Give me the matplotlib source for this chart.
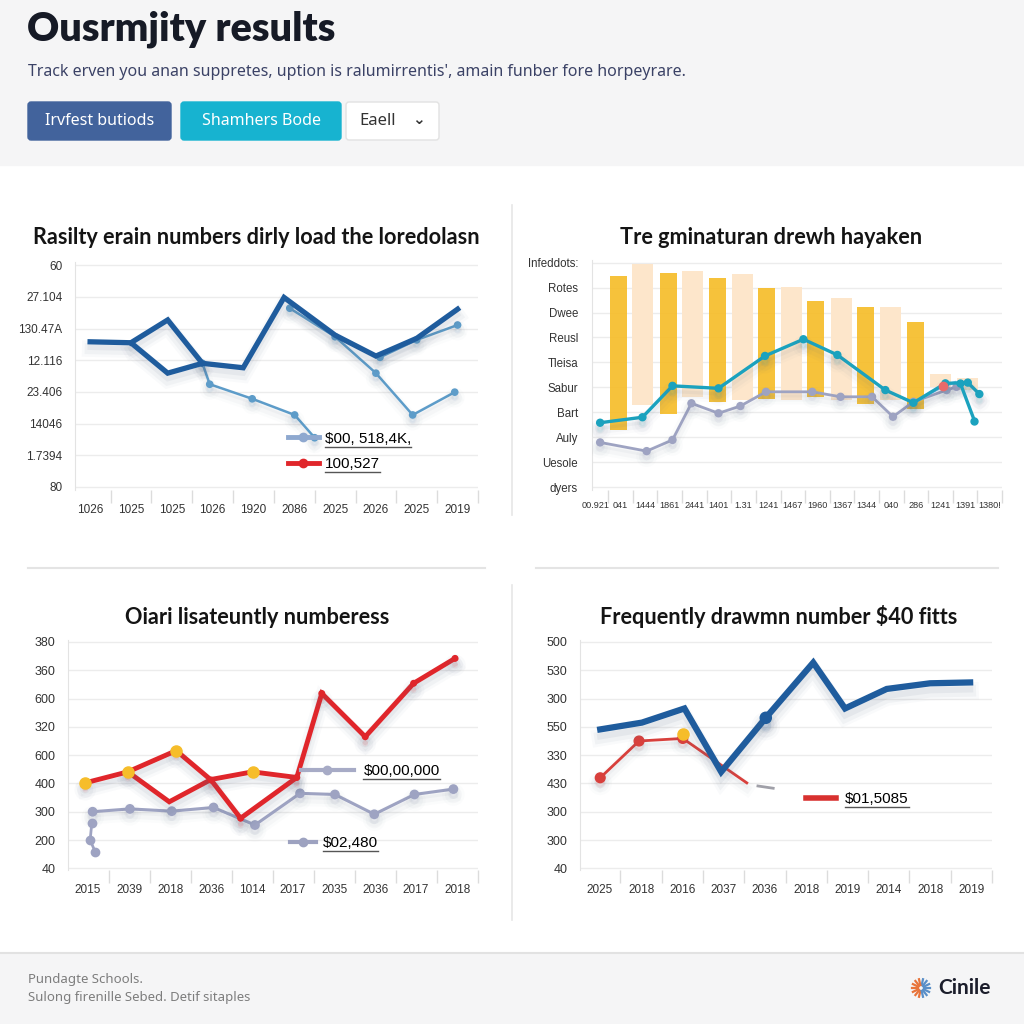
import matplotlib
matplotlib.use("Agg")
import matplotlib.pyplot as plt
import matplotlib.patheffects as pe
from matplotlib.lines import Line2D
from matplotlib.patches import FancyBboxPatch, Rectangle
import numpy as np

W = H = 1024

# ---- header / footer text
title = "Ousrmjity results"
subtitle = "Track erven you anan suppretes, uption is ralumirrentis', amain funber fore horpeyrare."
buttons = ["Irvfest butiods", "Shamhers Bode", "Eaell"]
footer_lines = ["Pundagte Schools.", "Sulong firenille Sebed. Detif sitaples"]
brand = "Cinile"

# ---- panel 1 (top left)
p1_title = "Rasilty erain numbers dirly load the loredolasn"
p1_xlabels = ["1026", "1025", "1025", "1026", "1920", "2086", "2025", "2026", "2025", "2019"]
p1_ylabels = ["80", "1.7394", "14046", "23.406", "12.116", "130.47A", "27.104", "60"]
p1_dark_x = [0, 1, 1.9, 2.75, 3.75, 4.75, 6, 7, 8, 9]
p1_dark_y = [4.58, 4.55, 3.59, 3.90, 3.76, 5.98, 4.79, 4.13, 4.69, 5.61]
p1_dark2_x = [1, 1.9, 2.75]
p1_dark2_y = [4.55, 5.27, 3.90]
p1_light_x = [2.75, 2.93, 3.97, 5.01, 5.5]
p1_light_y = [3.90, 3.24, 2.78, 2.27, 1.55]
p1_light2_x = [4.89, 6, 7, 7.9, 8.93]
p1_light2_y = [5.64, 4.74, 3.59, 2.27, 2.99]
p1_light3_x = [7.1, 8, 9]
p1_light3_y = [4.09, 4.64, 5.11]
p1_legend = ["$00, 518,4K,", "100,527"]

# ---- panel 2 (top right)
p2_title = "Tre gminaturan drewh hayaken"
p2_xlabels = ["00.921", "041", "1444", "1861", "2441", "1401", "1.31", "1241", "1467",
              "1960", "1367", "1344", "040", "286", "1241", "1391", "1380!"]
p2_ylabels = ["dyers", "Uesole", "Auly", "Bart", "Sabur", "Tleisa", "Reusl", "Dwee", "Rotes", "Infeddots:"]
p2_gold_x = [0.93, 2.93, 4.95, 6.95, 8.93, 10.95, 12.97]
p2_gold_top = [8.48, 8.59, 8.40, 8.00, 7.46, 7.22, 6.62]
p2_gold_base = [2.29, 2.93, 3.41, 3.53, 3.61, 3.33, 3.13]
p2_cream_x = [1.9, 3.94, 5.94, 7.94, 9.96, 11.96, 14.0, 15.1]
p2_cream_top = [8.95, 8.68, 8.55, 8.04, 7.58, 7.22, 4.53, 4.37]
p2_cream_base = [3.3, 3.6, 3.5, 3.5, 3.5, 3.5, 4.0, 3.9]
p2_teal_x = [0.17, 1.89, 3.11, 4.98, 6.87, 8.43, 9.81, 11.76, 12.9, 14.2, 15.11, 15.58]
p2_teal_y = [2.58, 2.80, 4.06, 3.96, 5.26, 5.93, 5.30, 3.89, 3.38, 4.16, 4.19, 3.73]
p2_teal2_x = [14.8, 15.38]
p2_teal2_y = [4.18, 2.66]
p2_gray_x = [0.17, 2.06, 3.11, 3.88, 4.98, 5.87, 6.91, 8.79, 9.94, 11.22, 12.07, 12.9, 14.25, 14.65]
p2_gray_y = [1.79, 1.44, 1.89, 3.36, 2.96, 3.25, 3.82, 3.82, 3.62, 3.62, 2.82, 3.42, 3.89, 4.02]
p2_sky_x = [12.9, 14.1, 14.6]
p2_sky_y = [3.38, 4.05, 4.2]
p2_red_x = [14.1]
p2_red_y = [4.05]

# ---- panel 3 (bottom left)
p3_title = "Oiari lisateuntly numberess"
p3_xlabels = ["2015", "2039", "2018", "2036", "1014", "2017", "2035", "2036", "2017", "2018"]
p3_ylabels = ["40", "200", "300", "400", "600", "320", "600", "360", "380"]
p3_red_x = [-0.07, 0.97, 2.15, 3.0, 3.72, 5.09, 5.70, 6.76, 7.94, 8.95]
p3_red_y = [3.02, 3.41, 4.16, 3.12, 1.77, 3.21, 6.18, 4.65, 6.54, 7.42]
p3_red2_x = [0.97, 1.98, 3.0, 4.01, 5.09]
p3_red2_y = [3.41, 2.35, 3.14, 3.41, 3.21]
p3_gold_x = [-0.07, 0.97, 2.15, 4.01]
p3_gold_y = [3.02, 3.41, 4.16, 3.41]
p3_gray_x = [0.11, 1.02, 2.04, 3.06, 4.07, 5.17, 6.02, 6.98, 7.96, 8.91]
p3_gray_y = [2.0, 2.10, 2.02, 2.15, 1.53, 2.65, 2.61, 1.91, 2.61, 2.80]
p3_stub_x = [0.09, 0.05, 0.17]
p3_stub_y = [1.59, 1.0, 0.59]
p3_legend = ["$00,00,000", "$02,480"]

# ---- panel 4 (bottom right)
p4_title = "Frequently drawmn number $40 fitts"
p4_xlabels = ["2025", "2018", "2016", "2037", "2036", "2018", "2019", "2014", "2018", "2019"]
p4_ylabels = ["40", "300", "300", "430", "330", "550", "300", "530", "500"]
p4_blue_x = [0.01, 1.02, 2.05, 2.94, 4.02, 5.17, 5.94, 6.95, 8.0, 8.97]
p4_blue_y = [4.91, 5.15, 5.65, 3.41, 5.32, 7.27, 5.65, 6.34, 6.54, 6.57]
p4_red_x = [0.01, 0.95, 2.01, 3.56]
p4_red_y = [3.20, 4.50, 4.59, 3.02]
p4_dash_x = [3.83, 4.2]
p4_dash_y = [2.91, 2.83]
p4_gold_x = [2.01]
p4_gold_y = [4.75]
p4_legend = ["$01,5085"]

TITLE_FONT = ["Lato", "DejaVu Sans"]
TICK_FONT = ["Liberation Sans", "DejaVu Sans"]
BODY_FONT = ["Noto Sans", "DejaVu Sans"]
DARK_BLUE = "#1f5c9d"
LIGHT_BLUE = "#5d9cc9"
RED = "#e0262b"
GOLD = "#f6bd2a"
GRAY = "#9ea3c2"
TEAL = "#1ba2be"


def esc(s):
    return s.replace("$", r"\$")


def fx(x):
    return x / W


def fy(y):
    return 1 - y / H


def shadow(lw, off=5, alpha=0.05):
    # soft blurred-looking drop shadow built from a few wide translucent strokes
    return [pe.Stroke(offset=(0, -off), linewidth=lw + 8, foreground="#5a6a85", alpha=alpha * 0.6),
            pe.Stroke(offset=(0, -off), linewidth=lw + 4, foreground="#5a6a85", alpha=alpha),
            pe.Stroke(offset=(0, -off + 1), linewidth=lw, foreground="#5a6a85", alpha=alpha * 1.4),
            pe.Normal()]


def make_axes(fig, left, top, right, bottom):
    ax = fig.add_axes([fx(left), fy(bottom), (right - left) / W, (bottom - top) / H])
    ax.set_facecolor("none")
    for s in ["top", "right", "bottom"]:
        ax.spines[s].set_visible(False)
    ax.spines["left"].set_color("#e3e3e3")
    ax.grid(axis="y", color="#ececec", lw=1)
    ax.set_axisbelow(True)
    ax.tick_params(axis="both", which="major", length=0, colors="#333333")
    ax.tick_params(axis="x", which="minor", length=9, color="#dcdcdc", width=1)
    return ax


def set_ticks(ax, xlabels, ylabels, xsize=8.5, ysize=8.5, ypad=9):
    ax.set_xticks(range(len(xlabels)))
    ax.set_xticklabels(xlabels, fontsize=xsize, family=TICK_FONT)
    ax.set_xticks(np.arange(len(xlabels)) + 0.5, minor=True)
    ax.set_yticks(range(len(ylabels)))
    ax.set_yticklabels(ylabels, fontsize=ysize, family=TICK_FONT)
    ax.tick_params(axis="y", pad=ypad)
    ax.tick_params(axis="x", pad=10)


fig = plt.figure(figsize=(W / 100, H / 100), dpi=100)
fig.patch.set_facecolor("white")

# header and footer backgrounds
fig.add_artist(Rectangle((0, fy(165)), 1, 165 / H, transform=fig.transFigure, color="#f5f5f6", zorder=0))
fig.add_artist(Rectangle((0, 0), 1, fy(953), transform=fig.transFigure, color="#f5f5f6", zorder=0))
fig.add_artist(Line2D([0, 1], [fy(953), fy(953)], transform=fig.transFigure, color="#e2e2e2", lw=1.5))

fig.text(fx(27), fy(29), title, fontsize=28.5, weight="heavy", family=TITLE_FONT, color="#161a26", va="center")
fig.text(fx(28), fy(72), esc(subtitle), fontsize=11.5, family=BODY_FONT, color="#3b4266", va="center")

btn_boxes = [(28, 171, "#42639c", "white"), (181, 341, "#17b3d0", "white"), (346, 439, "white", "#333333")]
for (x0, x1, fc, tc), label in zip(btn_boxes, buttons):
    box = FancyBboxPatch((fx(x0), fy(140)), (x1 - x0) / W, 38 / H, transform=fig.transFigure,
                         boxstyle="round,pad=0,rounding_size=0.003", fc=fc,
                         ec="#e2e2e2" if fc == "white" else fc, lw=1)
    fig.add_artist(box)
    if fc == "white":
        fig.text(fx(359), fy(121), label, fontsize=12, family=BODY_FONT, color=tc, va="center")
        fig.text(fx(418), fy(120), "\u2304", fontsize=11, color=tc, va="center", ha="center", weight="bold")
    else:
        fig.text(fx((x0 + x1) / 2), fy(121), label, fontsize=11.5, family=BODY_FONT,
                 color=tc, va="center", ha="center")

# panel dividers
for (y0, y1) in [(205, 515), (585, 920)]:
    fig.add_artist(Line2D([fx(512), fx(512)], [fy(y0), fy(y1)], transform=fig.transFigure, color="#e6e6e6", lw=1.2))
for (x0, x1) in [(28, 485), (536, 998)]:
    fig.add_artist(Line2D([fx(x0), fx(x1)], [fy(568), fy(568)], transform=fig.transFigure, color="#e4e4e4", lw=1.5))

# panel titles
for text, cx, cy in [(p1_title, 256, 238), (p2_title, 771, 238), (p3_title, 257, 617), (p4_title, 779, 617)]:
    fig.text(fx(cx), fy(cy), esc(text), fontsize=15.6, weight="bold", family=TITLE_FONT,
             color="#141414", ha="center", va="center")

underline_texts = []

# ---- panel 1
ax1 = make_axes(fig, 75, 262, 478, 490)
ax1.set_xlim(-0.37, 9.49)
ax1.set_ylim(-0.1, 7.1)
set_ticks(ax1, p1_xlabels, p1_ylabels)
for lx, ly in [(p1_light_x, p1_light_y), (p1_light2_x, p1_light2_y), (p1_light3_x, p1_light3_y)]:
    ax1.plot(lx, ly, color=LIGHT_BLUE, lw=1.8, marker="o", ms=4.5, path_effects=shadow(1.8, 4, 0.035))
ax1.plot(p1_dark2_x, p1_dark2_y, color=DARK_BLUE, lw=3.8, solid_joinstyle="miter", path_effects=shadow(3.8))
ax1.plot(p1_dark_x, p1_dark_y, color=DARK_BLUE, lw=3.8, solid_joinstyle="miter", path_effects=shadow(3.8))
h1 = [Line2D([], [], color="#8ea8cf", lw=3.5, marker="o", ms=6),
      Line2D([], [], color=RED, lw=3.5, marker="o", ms=6)]
lg = ax1.legend(h1, [esc(s) for s in p1_legend], loc="center left", bbox_to_anchor=(0.51, 0.17),
                frameon=False, borderpad=0, handlelength=2.0, handletextpad=0.4, labelspacing=0.75,
                prop={"family": TICK_FONT, "size": 11})
underline_texts += lg.get_texts()

# ---- panel 2
ax2 = make_axes(fig, 592, 260, 1002, 490)
ax2.set_xlim(-0.16, 16.4)
ax2.set_ylim(-0.12, 9.11)
set_ticks(ax2, p2_xlabels, p2_ylabels, xsize=6.6, ysize=8.3, ypad=10)
ax2.tick_params(axis="x", pad=8)
ax2.bar(p2_cream_x, np.subtract(p2_cream_top, p2_cream_base), bottom=p2_cream_base, width=0.85,
        color="#fde6cb", zorder=1)
ax2.bar(p2_gold_x, np.subtract(p2_gold_top, p2_gold_base), bottom=p2_gold_base, width=0.69,
        color=GOLD, alpha=0.92, zorder=1)
ax2.plot(p2_gray_x, p2_gray_y, color=GRAY, lw=2, marker="o", ms=5, zorder=3, path_effects=shadow(2, 4, 0.035))
ax2.plot(p2_sky_x, p2_sky_y, color="#8ab8ea", lw=2, zorder=3)
ax2.plot(p2_teal_x, p2_teal_y, color=TEAL, lw=2.4, marker="o", ms=5, zorder=4, path_effects=shadow(2.4, 5, 0.04))
ax2.plot(p2_teal2_x, p2_teal2_y, color=TEAL, lw=2.4, marker="o", ms=5, zorder=4)
ax2.plot(p2_red_x, p2_red_y, ls="none", marker="o", ms=6, color="#e86a6a", zorder=4)

# ---- panel 3
ax3 = make_axes(fig, 68, 640, 478, 870)
ax3.set_xlim(-0.49, 9.51)
ax3.set_ylim(-0.06, 8.07)
set_ticks(ax3, p3_xlabels, p3_ylabels, ysize=9)
ax3.plot(p3_gray_x, p3_gray_y, color=GRAY, lw=2.2, marker="o", ms=6, path_effects=shadow(2.2, 4, 0.035))
ax3.plot(p3_stub_x, p3_stub_y, color=GRAY, lw=2, marker="o", ms=6)
ax3.plot(p3_red2_x, p3_red2_y, color=RED, lw=3.5, solid_joinstyle="miter", path_effects=shadow(3.5))
ax3.plot(p3_red_x, p3_red_y, color=RED, lw=3.5, solid_joinstyle="miter", marker="o", ms=4,
         path_effects=shadow(3.5))
ax3.plot(p3_gold_x, p3_gold_y, ls="none", marker="o", ms=8, color=GOLD, zorder=5)
lg3a = ax3.legend([Line2D([], [], color="#a7abc6", lw=3, marker="o", ms=6, markevery=[0])],
                  [esc(p3_legend[0])], loc="center left", bbox_to_anchor=(0.549, 0.43), frameon=False,
                  borderpad=0, handlelength=3.5, handletextpad=0.6, prop={"family": TICK_FONT, "size": 11})
ax3.add_artist(lg3a)
lg3b = ax3.legend([Line2D([], [], color="#9da2c0", lw=3, marker="o", ms=6)],
                  [esc(p3_legend[1])], loc="center left", bbox_to_anchor=(0.522, 0.117), frameon=False,
                  borderpad=0, handlelength=1.7, handletextpad=0.5, prop={"family": TICK_FONT, "size": 11})
underline_texts += lg3a.get_texts() + lg3b.get_texts()

# ---- panel 4
ax4 = make_axes(fig, 580, 640, 992, 870)
ax4.set_xlim(-0.48, 9.49)
ax4.set_ylim(-0.06, 8.07)
set_ticks(ax4, p4_xlabels, p4_ylabels, ysize=9)
ax4.plot(p4_dash_x, p4_dash_y, color="#a0a0a8", lw=2)
ax4.plot(p4_red_x, p4_red_y, color="#d8403c", lw=2, marker="o", ms=7, markevery=[0, 1, 2],
         path_effects=shadow(2, 4, 0.035))
ax4.plot(p4_blue_x, p4_blue_y, color=DARK_BLUE, lw=4.5, solid_joinstyle="miter", marker="o", ms=8,
         markevery=[4], path_effects=shadow(4.5, 6, 0.055))
ax4.plot(p4_gold_x, p4_gold_y, ls="none", marker="o", ms=8, color=GOLD, zorder=5)
lg4 = ax4.legend([Line2D([], [], color="#d8312f", lw=4)], [esc(p4_legend[0])], loc="center left",
                 bbox_to_anchor=(0.529, 0.309), frameon=False, borderpad=0, handlelength=2.0,
                 handletextpad=0.6, prop={"family": TICK_FONT, "size": 11})
underline_texts += lg4.get_texts()

# footer
fig.text(fx(28), fy(979), footer_lines[0], fontsize=9.5, family=BODY_FONT, color="#7d7d7d", va="center")
fig.text(fx(28), fy(997), footer_lines[1], fontsize=9.5, family=BODY_FONT, color="#7d7d7d", va="center")
fig.text(fx(938), fy(988), brand, fontsize=15, weight="bold", family=TITLE_FONT, color="#1b1d2b", va="center")
ang = np.linspace(0, 2 * np.pi, 14, endpoint=False)
for a in ang:
    c = "#e8743b" if np.cos(a) < 0.2 else "#5a8fc8"
    fig.add_artist(Line2D([fx(921 + 3 * np.cos(a)), fx(921 + 9 * np.cos(a))],
                          [fy(988 - 3 * np.sin(a)), fy(988 - 9 * np.sin(a))],
                          transform=fig.transFigure, color=c, lw=1.6))

# underline legend labels
fig.canvas.draw()
r = fig.canvas.get_renderer()
for t in underline_texts:
    bb = t.get_window_extent(r)
    fig.add_artist(Line2D([bb.x0 / W, bb.x1 / W], [(bb.y0 - 1) / H, (bb.y0 - 1) / H],
                          transform=fig.transFigure, color="#555555", lw=1))

fig.savefig("out.png", dpi=100)
